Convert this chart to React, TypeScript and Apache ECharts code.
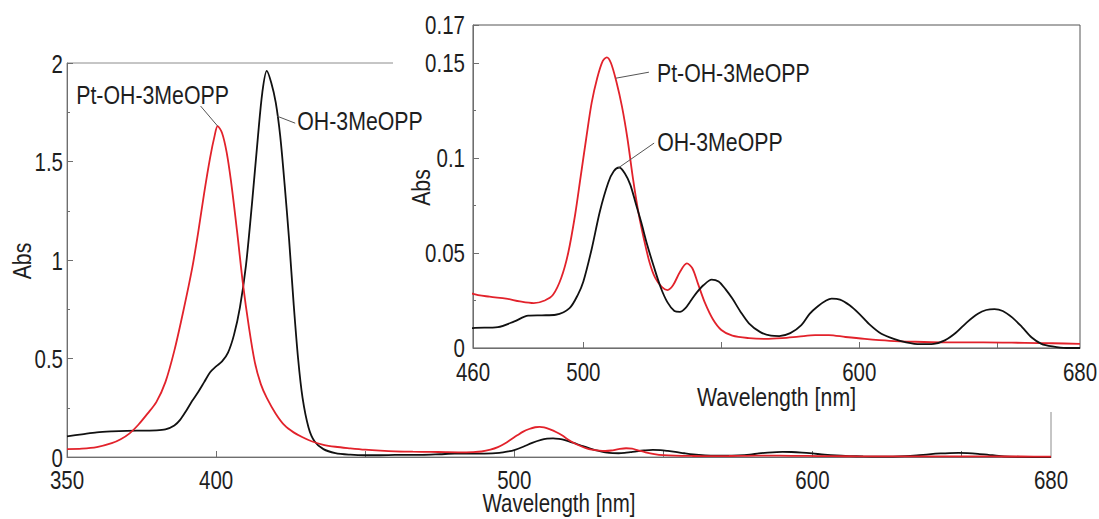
import React, { useEffect, useRef } from 'react';
import * as echarts from 'echarts';

const FONT = '"Liberation Sans", Arial, sans-serif';

// Absorption spectrum of the free-base porphyrin
const ohWavelengths = [
  350, 355, 360, 365, 370, 375, 380, 383, 386, 388, 390, 392, 394, 396, 398, 400, 402, 404, 406, 408,
  410, 412, 414, 415.5, 417, 418.5, 420, 421.5, 423, 424.5, 426, 427.5, 429, 431, 433, 436, 440, 445, 450, 455,
  460, 469, 475, 480, 485, 490, 495, 498, 500, 503, 506, 509, 511, 513, 515, 517, 519, 521, 523, 525.5,
  528, 530.5, 533, 535, 537, 539, 541, 543.5, 546.5, 549, 551.5, 554, 557, 560, 564, 568, 571, 575, 579, 582,
  585, 588, 590, 593, 596.5, 600, 604, 608, 612.5, 617, 622, 627, 631, 635, 639, 643, 646, 649, 652, 655.5,
  659, 662.5, 666, 670, 675, 680,
];
const ohAbs = [
  0.105, 0.115, 0.125, 0.13, 0.133, 0.134, 0.135, 0.14, 0.16, 0.19, 0.235, 0.285, 0.33, 0.38, 0.43, 0.46, 0.485, 0.53, 0.62, 0.76,
  0.97, 1.28, 1.62, 1.85, 1.96, 1.9, 1.8, 1.63, 1.38, 1.1, 0.78, 0.5, 0.3, 0.15, 0.08, 0.04, 0.02, 0.012, 0.009, 0.009,
  0.0105, 0.011, 0.014, 0.017, 0.0172, 0.0175, 0.021, 0.028, 0.035, 0.052, 0.072, 0.087, 0.093, 0.095, 0.092, 0.086, 0.076, 0.066, 0.055, 0.043,
  0.032, 0.024, 0.0195, 0.019, 0.021, 0.025, 0.029, 0.033, 0.036, 0.035, 0.031, 0.026, 0.019, 0.013, 0.0085, 0.0065, 0.0063, 0.0078, 0.012, 0.018,
  0.022, 0.025, 0.026, 0.0255, 0.0225, 0.018, 0.012, 0.0075, 0.0048, 0.003, 0.002, 0.0022, 0.004, 0.008, 0.0135, 0.018, 0.02, 0.0205, 0.0195, 0.016,
  0.011, 0.0055, 0.0022, 0.0008, 0.0, 0.0,
];

// Absorption spectrum of the platinum complex
const ptWavelengths = [
  350, 355, 360, 365, 368, 371, 374, 377, 380, 383, 386, 389, 392, 394, 396, 398, 399.5, 400.5, 402, 403.5,
  405, 407, 409, 411, 413, 415, 417, 420, 423, 426, 429, 432, 436, 440, 445, 450, 455, 460, 466, 472,
  477, 482, 486, 489, 492, 494.5, 497, 499, 501, 503, 505, 507, 508.5, 510, 512, 514, 516, 518, 520, 522,
  524, 526, 528.5, 530.5, 532.5, 535, 537.5, 539.5, 541.5, 544, 547, 550, 554, 560, 566, 572, 578, 584, 589, 595,
  602, 611, 620, 630, 645, 660, 670, 680,
];
const ptAbs = [
  0.04, 0.042, 0.05, 0.07, 0.09, 0.12, 0.165, 0.22, 0.28, 0.38, 0.54, 0.74, 0.96, 1.14, 1.34, 1.52, 1.63, 1.68, 1.645, 1.55,
  1.4, 1.15, 0.88, 0.66, 0.48, 0.37, 0.3, 0.22, 0.16, 0.125, 0.1, 0.08, 0.062, 0.052, 0.044, 0.037, 0.032, 0.0285, 0.027, 0.026,
  0.0245, 0.0236, 0.025, 0.028, 0.037, 0.05, 0.07, 0.09, 0.11, 0.129, 0.142, 0.151, 0.153, 0.15, 0.14, 0.127, 0.11, 0.089, 0.071, 0.057,
  0.045, 0.037, 0.032, 0.0305, 0.033, 0.04, 0.0445, 0.042, 0.034, 0.024, 0.015, 0.0095, 0.0065, 0.0052, 0.0048, 0.0052, 0.006, 0.0068, 0.0068, 0.0058,
  0.0048, 0.0038, 0.0033, 0.003, 0.003, 0.0027, 0.0025, 0.0022,
];

const seriesNames = ['OH-3MeOPP', 'Pt-OH-3MeOPP'];
const seriesColors = ['#111111', '#e2222b'];

const mainXLabels = [350, 400, 500, 600, 680];
const mainXTicks = [400, 450, 500, 550, 600, 650];
const mainYLabels = [0, 0.5, 1, 1.5, 2];
const insetXLabels = [460, 500, 600, 680];
const insetXTicks = [500, 550, 600, 650];
const insetYLabels = [0, 0.05, 0.1, 0.15, 0.17];
const xTitle = 'Wavelength [nm]';
const yTitle = 'Abs';

// Leader-line callouts: grid, series, anchor on the curve, offset of the line end, text offset from line end
const callouts = [
  { grid: 0, name: seriesNames[1], at: [400.5, 1.68], end: [-17, -20], text: [-48, -11], align: 'center' },
  { grid: 0, name: seriesNames[0], at: [420.5, 1.73], end: [18, 7], text: [2, -2], align: 'left' },
  { grid: 1, name: seriesNames[1], at: [511.8, 0.142], end: [33, -6], text: [8, 1], align: 'left' },
  { grid: 1, name: seriesNames[0], at: [512.6, 0.0947], end: [36, -25], text: [3, -1], align: 'left' },
];

const pairs = (xs: number[], ys: number[]) => xs.map((x, i) => [x, ys[i]]);

const AXIS = '#6e6e6e';
const TEXT = '#1e1e1e';
const NARROW = 0.82;

export default function App() {
  const ref = useRef<HTMLDivElement>(null);

  useEffect(() => {
    if (!ref.current) return;
    const chart = echarts.init(ref.current, undefined, { renderer: 'svg' });

    const spectra = [pairs(ohWavelengths, ohAbs), pairs(ptWavelengths, ptAbs)];

    const xAxisBase = (grid: number, min: number, max: number, ticks: number[], z: number) => ({
      type: 'value',
      gridIndex: grid,
      min,
      max,
      z,
      splitLine: { show: false },
      axisLine: { show: true, lineStyle: { color: AXIS, width: 1 } },
      axisTick: { show: true, inside: true, length: 6, customValues: ticks, lineStyle: { color: AXIS } },
      axisLabel: { show: false },
    });

    const yAxisBase = (grid: number, max: number, interval: number, z: number) => ({
      type: 'value',
      gridIndex: grid,
      min: 0,
      max,
      interval,
      z,
      splitLine: { show: false },
      axisLine: { show: true, lineStyle: { color: AXIS, width: 1 } },
      axisTick: { show: true, inside: true, length: 6, lineStyle: { color: AXIS } },
      minorTick: { show: true, splitNumber: 2, length: 3, lineStyle: { color: AXIS } },
      axisLabel: { show: false },
    });

    const lineSeries = (grid: number, idx: number, z: number) => ({
      type: 'line',
      name: seriesNames[idx],
      xAxisIndex: grid,
      yAxisIndex: grid,
      data: spectra[idx],
      showSymbol: false,
      smooth: 0.3,
      clip: true,
      z,
      lineStyle: { color: seriesColors[idx], width: 1.8 },
    });

    const panel = { type: 'rect', z: 5, shape: { x: 393, y: 0, width: 706, height: 412 }, style: { fill: '#ffffff' } };

    chart.setOption({
      animation: false,
      backgroundColor: '#ffffff',
      grid: [
        { left: 67, right: 48, top: 63, bottom: 62, show: true, borderColor: '#8c8c8c', borderWidth: 1, z: 0 },
        { left: 473, right: 19, top: 25, bottom: 171, show: true, borderColor: '#555555', borderWidth: 1, z: 6 },
      ],
      xAxis: [xAxisBase(0, 350, 680, mainXTicks, 0), xAxisBase(1, 460, 680, insetXTicks, 6)],
      yAxis: [yAxisBase(0, 2, 0.5, 0), yAxisBase(1, 0.17, 0.05, 6)],
      series: [lineSeries(0, 0, 2), lineSeries(0, 1, 3), lineSeries(1, 1, 7), lineSeries(1, 0, 8)],
      graphic: [panel],
    });

    const px = (grid: number, x: number, y: number) => chart.convertToPixel({ gridIndex: grid }, [x, y]) as number[];

    const label = (x: number, y: number, text: string, align: string, z: number, rotation = 0, size = 26) => ({
      type: 'text',
      z,
      x,
      y,
      rotation,
      scaleX: NARROW,
      style: { text, fontSize: size, fontFamily: FONT, fill: TEXT, align, verticalAlign: 'middle' },
    });

    const texts: any[] = [];

    // tick labels and axis titles of both panels
    const panels = [
      { grid: 0, xs: mainXLabels, ys: mainYLabels, xmin: 350, xmax: 680, ymax: 2, xDy: 23, yDx: -4, yDy: 1, titleDy: 46, titleSize: 25, titleDx: -45, z: 1 },
      { grid: 1, xs: insetXLabels, ys: insetYLabels, xmin: 460, xmax: 680, ymax: 0.17, xDy: 24, yDx: -8, yDy: 0, titleDy: 49, titleSize: 26, titleDx: -52, z: 9 },
    ];
    panels.forEach((pn) => {
      pn.xs.forEach((v) => {
        const p = px(pn.grid, v, 0);
        texts.push(label(p[0], p[1] + pn.xDy, String(v), 'center', pn.z, 0, 25));
      });
      pn.ys.forEach((v) => {
        const p = px(pn.grid, pn.xmin, v);
        texts.push(label(p[0] + pn.yDx, p[1] + pn.yDy, String(v), 'right', pn.z, 0, 25));
      });
      const bx = px(pn.grid, (pn.xmin + pn.xmax) / 2, 0);
      texts.push(label(bx[0], bx[1] + pn.titleDy, xTitle, 'center', pn.z, 0, pn.titleSize));
      const ly = px(pn.grid, pn.xmin, pn.ymax / 2);
      texts.push(label(ly[0] + pn.titleDx, ly[1] + 1, yTitle, 'center', pn.z, Math.PI / 2));
    });

    // callouts naming each spectrum
    callouts.forEach((c) => {
      const p = px(c.grid, c.at[0], c.at[1]);
      const e = [p[0] + c.end[0], p[1] + c.end[1]];
      texts.push({
        type: 'line',
        z: 9,
        shape: { x1: p[0], y1: p[1], x2: e[0], y2: e[1] },
        style: { stroke: '#555555', lineWidth: 1 },
      });
      texts.push(label(e[0] + c.text[0], e[1] + c.text[1], c.name, c.align, 9));
    });

    chart.setOption({ graphic: [panel, ...texts] });

    return () => chart.dispose();
  }, []);

  return (
    <div
      ref={ref}
      style={{ position: 'fixed', left: 0, top: 0, width: 1099, height: 519, background: '#ffffff' }}
    />
  );
}
